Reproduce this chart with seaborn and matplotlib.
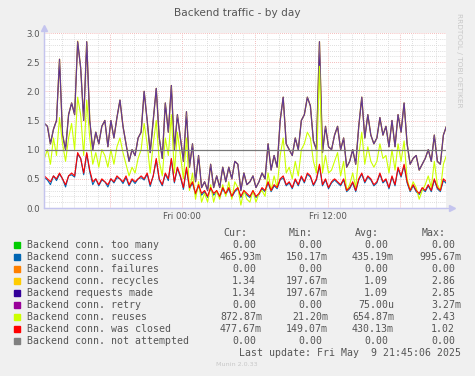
#!/usr/bin/env python3
"""Munin style 'Backend traffic - by day' chart redrawn with seaborn."""
import numpy as np
import pandas as pd
import seaborn as sns
import matplotlib
matplotlib.use("Agg")
import matplotlib.pyplot as plt
import matplotlib.dates as mdates
from matplotlib.ticker import MultipleLocator, FuncFormatter

# ---- data (one sample every 15 minutes) ----
START = "2025-05-08 12:35"
X_MIN = "2025-05-08 12:33"
X_MAX = "2025-05-09 21:48"

requests_made = [
    1.45, 1.40, 1.10, 1.35, 1.50, 2.55, 1.25, 1.00, 1.60, 1.80,
    1.60, 2.85, 2.40, 1.50, 2.85, 1.50, 1.00, 1.30, 1.10, 1.40,
    1.50, 1.05, 1.50, 1.20, 1.55, 1.85, 1.40, 1.10, 0.80, 1.00,
    0.90, 1.20, 1.30, 2.00, 1.50, 0.95, 1.50, 2.05, 1.20, 0.85,
    1.80, 1.30, 2.10, 1.00, 1.60, 1.20, 0.80, 1.65, 0.70, 1.10,
    0.45, 0.90, 0.35, 0.45, 0.30, 0.75, 0.35, 0.55, 0.35, 0.70,
    0.45, 0.70, 0.50, 0.80, 0.75, 0.30, 0.60, 0.40, 0.45, 0.55,
    0.35, 0.45, 0.60, 0.50, 1.10, 0.65, 0.90, 0.70, 1.50, 1.90,
    1.10, 1.00, 0.90, 1.20, 1.00, 1.50, 1.60, 1.90, 1.75, 1.15,
    1.00, 2.85, 0.95, 1.40, 1.05, 1.00, 1.25, 1.40, 1.00, 1.20,
    0.70, 0.80, 1.00, 0.75, 1.40, 1.90, 1.20, 1.60, 1.25, 1.10,
    1.20, 1.55, 1.25, 1.40, 1.05, 1.50, 1.05, 1.60, 1.30, 1.80,
    1.10, 0.75, 0.85, 0.90, 0.65, 0.75, 0.85, 1.00, 0.80, 1.25,
    0.80, 0.75, 1.25, 1.40,
]
# recycles follow requests almost exactly (same cur/avg in the legend)
conn_recycles = [
    1.45, 1.40, 1.10, 1.35, 1.50, 2.55, 1.25, 1.00, 1.60, 1.80,
    1.60, 2.86, 2.40, 1.50, 2.85, 1.50, 1.00, 1.30, 1.10, 1.40,
    1.50, 1.05, 1.50, 1.20, 1.55, 1.85, 1.40, 1.10, 0.80, 1.00,
    0.90, 1.20, 1.30, 2.00, 1.50, 0.95, 1.50, 2.05, 1.20, 0.85,
    1.80, 1.30, 2.10, 1.00, 1.60, 1.20, 0.80, 1.65, 0.70, 1.10,
    0.45, 0.90, 0.35, 0.45, 0.30, 0.75, 0.35, 0.55, 0.35, 0.70,
    0.45, 0.70, 0.50, 0.80, 0.75, 0.30, 0.60, 0.40, 0.45, 0.55,
    0.35, 0.45, 0.60, 0.50, 1.10, 0.65, 0.90, 0.70, 1.50, 1.90,
    1.10, 1.00, 0.90, 1.20, 1.00, 1.50, 1.60, 1.90, 1.75, 1.15,
    1.00, 2.85, 0.95, 1.40, 1.05, 1.00, 1.25, 1.40, 1.00, 1.20,
    0.70, 0.80, 1.00, 0.75, 1.40, 1.90, 1.20, 1.60, 1.25, 1.10,
    1.20, 1.55, 1.25, 1.40, 1.05, 1.50, 1.05, 1.60, 1.30, 1.80,
    1.10, 0.75, 0.85, 0.90, 0.65, 0.75, 0.85, 1.00, 0.80, 1.25,
    0.80, 0.75, 1.25, 1.40,
]
conn_reuses = [
    0.85, 1.00, 0.75, 1.20, 0.90, 1.55, 1.10, 0.80, 1.20, 1.45,
    1.00, 1.90, 1.60, 0.90, 1.85, 1.20, 0.75, 0.95, 0.70, 1.00,
    0.90, 0.70, 1.00, 0.75, 1.05, 1.20, 0.95, 0.75, 0.55, 0.70,
    0.60, 0.85, 1.00, 1.45, 1.10, 0.60, 1.10, 1.50, 0.80, 0.55,
    1.20, 0.90, 1.60, 0.60, 1.30, 0.90, 0.50, 1.20, 0.30, 0.60,
    0.15, 0.45, 0.10, 0.25, 0.10, 0.40, 0.10, 0.30, 0.15, 0.40,
    0.20, 0.45, 0.15, 0.45, 0.35, 0.05, 0.30, 0.15, 0.10, 0.30,
    0.10, 0.25, 0.30, 0.20, 0.60, 0.30, 0.55, 0.35, 0.90, 1.20,
    0.60, 0.70, 0.50, 0.80, 0.55, 1.00, 1.10, 1.30, 1.20, 0.80,
    0.60, 2.43, 0.60, 0.90, 0.60, 0.65, 0.80, 0.95, 0.55, 0.80,
    0.30, 0.40, 0.60, 0.35, 0.90, 1.30, 0.75, 1.05, 0.80, 0.70,
    0.80, 1.10, 0.85, 0.90, 0.60, 1.00, 0.65, 1.10, 0.80, 1.15,
    0.50, 0.30, 0.45, 0.35, 0.15, 0.30, 0.40, 0.55, 0.35, 0.80,
    0.40, 0.30, 0.75, 0.90,
]
conn_was_closed = [
    0.55, 0.50, 0.45, 0.55, 0.50, 0.60, 0.50, 0.40, 0.55, 0.60,
    0.55, 0.95, 0.85, 0.60, 0.95, 0.65, 0.45, 0.50, 0.40, 0.50,
    0.45, 0.40, 0.50, 0.45, 0.55, 0.50, 0.45, 0.55, 0.40, 0.50,
    0.45, 0.50, 0.55, 0.50, 0.60, 0.40, 0.55, 0.85, 0.50, 0.40,
    0.60, 0.50, 0.85, 0.45, 0.70, 0.55, 0.35, 0.70, 0.35, 0.45,
    0.25, 0.40, 0.25, 0.30, 0.20, 0.35, 0.25, 0.30, 0.20, 0.35,
    0.25, 0.35, 0.20, 0.30, 0.35, 0.20, 0.30, 0.25, 0.20, 0.30,
    0.20, 0.25, 0.35, 0.30, 0.45, 0.30, 0.40, 0.35, 0.50, 0.55,
    0.40, 0.45, 0.35, 0.50, 0.40, 0.55, 0.45, 0.60, 0.55, 0.40,
    0.50, 0.75, 0.40, 0.50, 0.35, 0.45, 0.50, 0.45, 0.40, 0.50,
    0.30, 0.35, 0.45, 0.30, 0.50, 0.60, 0.45, 0.55, 0.50, 0.40,
    0.45, 0.60, 0.45, 0.50, 0.35, 0.55, 0.40, 0.70, 0.55, 0.75,
    0.45, 0.30, 0.40, 0.30, 0.25, 0.35, 0.30, 0.40, 0.30, 0.50,
    0.35, 0.30, 0.50, 0.45,
]
conn_success = [
    0.52, 0.48, 0.40, 0.55, 0.47, 0.58, 0.50, 0.36, 0.55, 0.57,
    0.53, 0.92, 0.85, 0.57, 0.93, 0.62, 0.40, 0.50, 0.38, 0.48,
    0.45, 0.36, 0.50, 0.43, 0.52, 0.50, 0.42, 0.52, 0.38, 0.48,
    0.42, 0.50, 0.52, 0.48, 0.58, 0.37, 0.55, 0.82, 0.48, 0.38,
    0.58, 0.47, 0.83, 0.43, 0.68, 0.53, 0.32, 0.67, 0.33, 0.43,
    0.23, 0.38, 0.22, 0.28, 0.18, 0.33, 0.22, 0.28, 0.18, 0.33,
    0.23, 0.33, 0.18, 0.28, 0.33, 0.18, 0.28, 0.22, 0.18, 0.28,
    0.18, 0.23, 0.33, 0.28, 0.43, 0.28, 0.38, 0.33, 0.48, 0.52,
    0.38, 0.43, 0.33, 0.48, 0.38, 0.53, 0.43, 0.58, 0.53, 0.38,
    0.48, 0.72, 0.38, 0.48, 0.33, 0.43, 0.48, 0.43, 0.38, 0.48,
    0.28, 0.33, 0.43, 0.28, 0.48, 0.58, 0.43, 0.53, 0.48, 0.38,
    0.43, 0.58, 0.43, 0.48, 0.33, 0.53, 0.38, 0.67, 0.53, 0.72,
    0.43, 0.28, 0.38, 0.28, 0.23, 0.33, 0.28, 0.38, 0.28, 0.48,
    0.33, 0.28, 0.47, 0.42,
]

legend_labels = [
    "Backend conn. too many",
    "Backend conn. success",
    "Backend conn. failures",
    "Backend conn. recycles",
    "Backend requests made",
    "Backend conn. retry",
    "Backend conn. reuses",
    "Backend conn. was closed",
    "Backend conn. not attempted",
]
legend_colors = ["#00CC00", "#0066B3", "#FF8000", "#FFCC00", "#330099",
                 "#990099", "#CCFF00", "#FF0000", "#808080"]
cur_values = ["0.00 ", "465.93m", "0.00 ", "1.34 ", "1.34 ", "0.00 ", "872.87m", "477.67m", "0.00 "]
min_values = ["0.00 ", "150.17m", "0.00 ", "197.67m", "197.67m", "0.00 ", "21.20m", "149.07m", "0.00 "]
avg_values = ["0.00 ", "435.19m", "0.00 ", "1.09 ", "1.09 ", "75.00u", "654.87m", "430.13m", "0.00 "]
max_values = ["0.00 ", "995.67m", "0.00 ", "2.86 ", "2.85 ", "3.27m", "2.43 ", "1.02 ", "0.00 "]
column_heads = ["Cur:", "Min:", "Avg:", "Max:"]

TITLE = "Backend traffic - by day"
LAST_UPDATE = "Last update: Fri May  9 21:45:06 2025"


def main():
    times = pd.date_range(START, periods=len(requests_made), freq="15min")
    df = pd.DataFrame({
        "time": times,
        "success": conn_success,
        "recycles": conn_recycles,
        "requests": requests_made,
        "reuses": conn_reuses,
        "closed": conn_was_closed,
    })

    sns.set_style("white")
    plt.rcParams["font.family"] = ["DejaVu Sans"]

    W, H = 475, 376
    fig = plt.figure(figsize=(W / 100, H / 100), dpi=100, facecolor="#F0F0F0")
    ax = fig.add_axes([44 / W, 1 - 208 / H, 402 / W, 175 / H])
    ax.set_facecolor("white")

    # grid first
    ax.set_ylim(0, 3.0)
    ax.set_xlim(pd.Timestamp(X_MIN), pd.Timestamp(X_MAX))
    ax.yaxis.set_major_locator(MultipleLocator(0.5))
    ax.yaxis.set_minor_locator(MultipleLocator(0.1))
    ax.yaxis.set_major_formatter(FuncFormatter(lambda v, p: f"{v:.1f}"))
    ax.xaxis.set_major_locator(mdates.HourLocator(byhour=[0, 6, 12, 18]))
    ax.xaxis.set_minor_locator(mdates.HourLocator())

    def xfmt(v, pos):
        d = mdates.num2date(v)
        if d.hour in (0, 12):
            return d.strftime("%a %H:%M")
        return ""

    ax.xaxis.set_major_formatter(FuncFormatter(xfmt))
    ax.grid(which="minor", color="#d4d4d4", linestyle=(0, (1, 1.5)), linewidth=0.6)
    ax.grid(which="major", color="#f2a6a6", linestyle=(0, (1, 1.5)), linewidth=0.6)
    ax.set_axisbelow(True)

    lw = 0.8
    sns.lineplot(data=df, x="time", y="success", color="#0066B3", linewidth=lw, ax=ax)
    sns.lineplot(data=df, x="time", y="recycles", color="#FFCC00", linewidth=1.0, ax=ax)
    sns.lineplot(data=df, x="time", y="requests", color="#3a0a9a", linewidth=0.85, ax=ax)
    sns.lineplot(data=df, x="time", y="requests", color="#8a6a8e", linewidth=0.35, ax=ax)
    sns.lineplot(data=df, x="time", y="reuses", color="#CCFF00", linewidth=lw, ax=ax)
    sns.lineplot(data=df, x="time", y="closed", color="#FF0000", linewidth=lw, ax=ax)
    ax.axhline(1.0, color="#787878", linewidth=0.9, zorder=5)

    ax.set_xlabel("")
    ax.set_ylabel("")
    for side in ("top", "right"):
        ax.spines[side].set_visible(False)
    for side in ("left", "bottom"):
        ax.spines[side].set_color("#c4c4ee")
        ax.spines[side].set_linewidth(0.9)
    ax.tick_params(axis="both", which="both", length=0, colors="#555555", labelsize=6.2, pad=3)
    ax.tick_params(axis="x", pad=3)

    # axis arrows
    axis_col = "#c4c4ee"
    fig.add_artist(plt.Line2D([44 / W, 44 / W], [1 - 208 / H, 1 - 27 / H], color=axis_col, lw=0.9))
    fig.add_artist(plt.Line2D([44 / W, 452 / W], [1 - 208 / H, 1 - 208 / H], color=axis_col, lw=0.9))
    fig.add_artist(plt.Line2D([44 / W], [1 - 28 / H], marker="^", markersize=4, color=axis_col))
    fig.add_artist(plt.Line2D([452 / W], [1 - 208 / H], marker=">", markersize=4, color=axis_col))

    fig.text(0.5, 1 - 13 / H, TITLE, ha="center", va="center", fontsize=7.6, color="#555555")
    fig.text(459 / W, 1 - 60 / H, "RRDTOOL / TOBI OETIKER", rotation=270, ha="center",
             va="center", fontsize=5.3, color="#c8c8c8")

    # legend block
    mono = "DejaVu Sans Mono"
    fs = 7.1
    txt_col = "#555555"
    char_w = 6.0
    col_right = [262, 328, 394, 461]
    head_y = 233
    for head, xr in zip(column_heads, col_right):
        fig.text((xr - 15) / W, 1 - head_y / H, head, ha="right", va="center",
                 family=mono, fontsize=fs, color=txt_col)
    for i, label in enumerate(legend_labels):
        y = 245 + 12 * i
        fig.patches.append(plt.Rectangle((14 / W, 1 - (y + 3) / H), 6 / W, 6 / H,
                                         transform=fig.transFigure, color=legend_colors[i]))
        fig.text(27 / W, 1 - y / H, label, ha="left", va="center",
                 family=mono, fontsize=fs, color=txt_col)
        for vals, xr in zip([cur_values, min_values, avg_values, max_values], col_right):
            v = vals[i]
            xx = xr - char_w if v.endswith(" ") else xr
            fig.text(xx / W, 1 - y / H, v.strip(), ha="right", va="center",
                     family=mono, fontsize=fs, color=txt_col)
    fig.text(461 / W, 1 - 353 / H, LAST_UPDATE, ha="right", va="center",
             family=mono, fontsize=fs, color=txt_col)
    fig.text(237 / W, 1 - 365 / H, "Munin 2.0.33", ha="center", va="center",
             fontsize=4.6, color="#c8c8c8")

    fig.savefig("out.png", dpi=100, facecolor=fig.get_facecolor())


if __name__ == "__main__":
    main()
